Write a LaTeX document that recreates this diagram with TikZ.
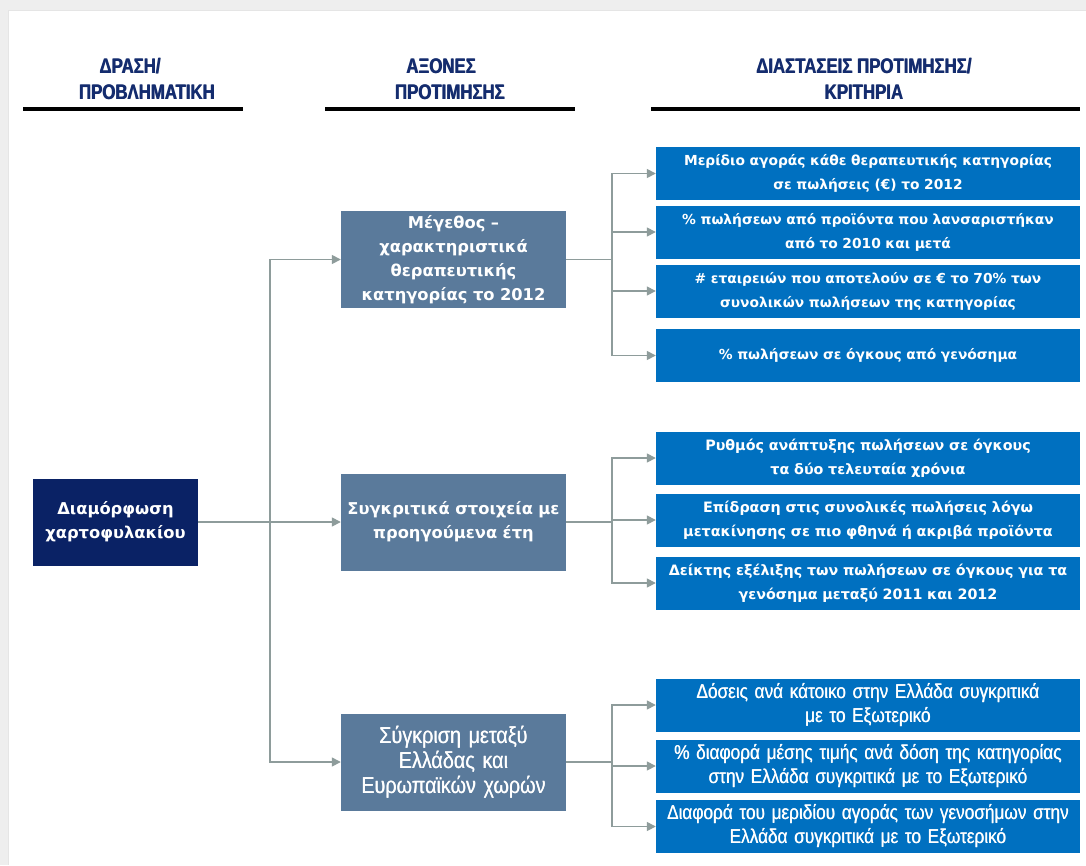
\documentclass[tikz,border=0pt]{standalone}
\usepackage{fontspec}
\usepackage{graphicx}
\setmainfont{DejaVu Sans}
\newfontfamily\hdrfont{Liberation Sans}
\newfontfamily\narrowfont[FakeStretch=0.86]{Liberation Sans}
\usetikzlibrary{arrows.meta}

\definecolor{navy}{HTML}{0A2265}
\definecolor{hdrblue}{HTML}{142C6E}
\definecolor{steel}{HTML}{5A7A9B}
\definecolor{brightblue}{HTML}{0070C0}
\definecolor{linkgray}{HTML}{8E9C9B}
\definecolor{framegray}{HTML}{EEEEEE}

% heavy condensed two-line column title (set twice, a hair apart, for weight)
\newcommand{\titlebody}[1]{\hdrfont\bfseries\fontsize{21}{26}\selectfont
  \begin{tabular}{@{}c@{}}#1\end{tabular}}
\newcommand{\coltitle}[1]{\scalebox{0.8}[1]{\rlap{\titlebody{#1}}\hspace{0.8pt}\titlebody{#1}}}
% slightly heavier narrow text for the comparison boxes
\newcommand{\heavy}[1]{\leavevmode\rlap{#1}\hspace{0.35pt}#1}

\tikzset{
  header/.style={inner sep=0pt, text=hdrblue},
  headbar/.style={line width=4pt, black},
  box/.style={inner sep=0pt, align=center, text=white},
  leftbox/.style={box, fill=navy, minimum width=165pt, minimum height=87pt,
    text width=160pt, font=\bfseries\fontsize{16.3}{24}\selectfont},
  midbox/.style={box, fill=steel, minimum width=225pt, minimum height=97pt,
    text width=224pt, font=\bfseries\fontsize{16.3}{24}\selectfont},
  critbox/.style={box, fill=brightblue, minimum width=424pt, minimum height=53pt,
    text width=422pt, font=\bfseries\fontsize{13.8}{24}\selectfont},
  critboxB/.style={critbox, font=\bfseries\fontsize{14.3}{24}\selectfont},
  critboxC/.style={critbox, font=\narrowfont\fontsize{20}{24}\selectfont},
  link/.style={draw=linkgray, line width=1.5pt},
  arrow/.style={link, -{Triangle[length=9pt, width=9pt]}},
}

\begin{document}
\begin{tikzpicture}[x=1pt, y=-1pt]
  % page area and frame bands
  \useasboundingbox (0,0) rectangle (1086,865);
  \fill[white] (0,0) rectangle (1086,865);
  \fill[framegray] (0,0) rectangle (1086,10);
  \fill[framegray] (0,0) rectangle (8,865);
  \draw[gray!20, line width=1pt] (8,10.5) -- (1086,10.5);
  \draw[gray!20, line width=1pt] (8.5,10) -- (8.5,865);

  % column headers
  \node[header] (h1) at (147,81) {\coltitle{ΔΡΑΣΗ/\hspace*{42pt}\\ΠΡΟΒΛΗΜΑΤΙΚΗ}};
  \node[header] (h2) at (450,81) {\coltitle{ΑΞΟΝΕΣ\hspace*{22pt}\\ΠΡΟΤΙΜΗΣΗΣ}};
  \node[header] (h3) at (864,81) {\coltitle{ΔΙΑΣΤΑΣΕΙΣ ΠΡΟΤΙΜΗΣΗΣ/\\ΚΡΙΤΗΡΙΑ}};
  \draw[headbar] (23,109) -- (243,109);
  \draw[headbar] (325,109) -- (575,109);
  \draw[headbar] (651,109) -- (1080,109);

  % action
  \node[leftbox] (act) at (115.5,522) {Διαμόρφωση\\χαρτοφυλακίου};

  % preference axes
  \node[midbox] (ax1) at (453.5,259.5) {Μέγεθος –\\χαρακτηριστικά\\θεραπευτικής\\κατηγορίας το 2012};
  \node[midbox] (ax2) at (453.5,522) {Συγκριτικά στοιχεία με\\προηγούμενα έτη};
  \node[midbox, font=\narrowfont\fontsize{23}{25}\selectfont] (ax3) at (453.5,762)
    {\heavy{Σύγκριση μεταξύ}\\\heavy{Ελλάδας και}\\\heavy{Ευρωπαϊκών χωρών}};

  % criteria
  \node[critbox] (c1) at (868,173.5) {Μερίδιο αγοράς κάθε θεραπευτικής κατηγορίας\\σε πωλήσεις (€) το 2012};
  \node[critbox] (c2) at (868,232) {\% πωλήσεων από προϊόντα που λανσαριστήκαν\\από το 2010 και μετά};
  \node[critbox] (c3) at (868,291) {\# εταιρειών που αποτελούν σε € το 70\% των\\συνολικών πωλήσεων της κατηγορίας};
  \node[critbox] (c4) at (868,355.5) {\% πωλήσεων σε όγκους από γενόσημα};

  \node[critboxB] (c5) at (868,458) {Ρυθμός ανάπτυξης πωλήσεων σε όγκους\\τα δύο τελευταία χρόνια};
  \node[critboxB] (c6) at (868,520) {Επίδραση στις συνολικές πωλήσεις λόγω\\μετακίνησης σε πιο φθηνά ή ακριβά προϊόντα};
  \node[critboxB] (c7) at (868,583) {Δείκτης εξέλιξης των πωλήσεων σε όγκους για τα\\γενόσημα μεταξύ 2011 και 2012};

  \node[critboxC] (c8) at (868,705) {\heavy{Δόσεις ανά κάτοικο στην Ελλάδα συγκριτικά}\\\heavy{με το Εξωτερικό}};
  \node[critboxC] (c9) at (868,766) {\heavy{\% διαφορά μέσης τιμής ανά δόση της κατηγορίας}\\\heavy{στην Ελλάδα συγκριτικά με το Εξωτερικό}};
  \node[critboxC] (c10) at (868,826.5) {\heavy{Διαφορά του μεριδίου αγοράς των γενοσήμων στην}\\\heavy{Ελλάδα συγκριτικά με το Εξωτερικό}};

  % trunk from the action to the axes
  \coordinate (trunk) at (270,522);
  \draw[arrow] (act.east) -- (ax2.west);
  \draw[arrow] (trunk) |- (ax1.west);
  \draw[arrow] (trunk) |- (ax3.west);

  % branches from each axis to its criteria
  \coordinate (b1) at (612,259.5);
  \coordinate (b2) at (612,522);
  \coordinate (b3) at (612,762);
  \draw[link] (ax1.east) -- (b1);
  \draw[link] (ax2.east) -- (b2);
  \draw[link] (ax3.east) -- (b3);
  \foreach \c in {c1,c2,c3,c4} \draw[arrow] (b1) |- (\c.west);
  \foreach \c in {c5,c6,c7} \draw[arrow] (b2) |- (\c.west);
  \foreach \c in {c8,c9,c10} \draw[arrow] (b3) |- (\c.west);
\end{tikzpicture}
\end{document}
